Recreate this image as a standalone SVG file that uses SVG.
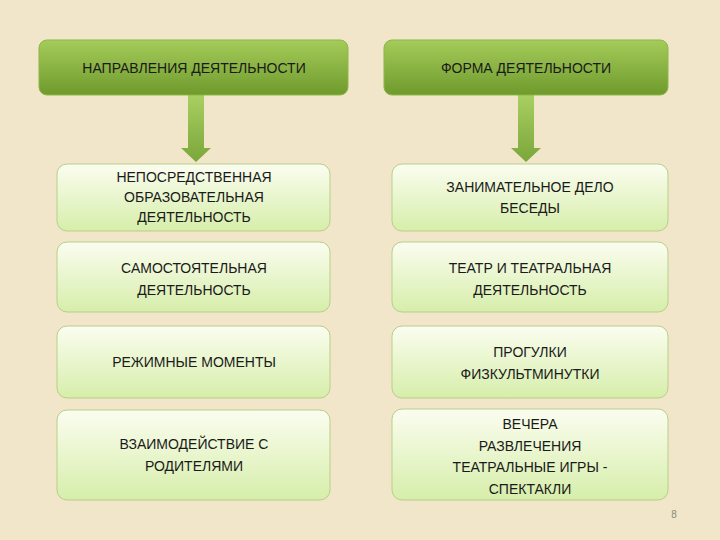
<svg xmlns="http://www.w3.org/2000/svg" width="720" height="540" viewBox="0 0 720 540">
<defs>
<linearGradient id="hg" x1="0" y1="0" x2="0" y2="1"><stop offset="0" stop-color="#a4cc5a"/><stop offset="1" stop-color="#6f9a2c"/></linearGradient>
<linearGradient id="bg" x1="0" y1="0" x2="0" y2="1"><stop offset="0" stop-color="#fbfdf0"/><stop offset="1" stop-color="#d6eeaa"/></linearGradient>
<linearGradient id="ag" x1="0" y1="0" x2="0" y2="1"><stop offset="0" stop-color="#a9cf62"/><stop offset="1" stop-color="#7aa63a"/></linearGradient>
<style>
.h{fill:url(#hg);stroke:#8fb54a;stroke-width:1}
.b{fill:url(#bg);stroke:#b8cf88;stroke-width:1}
.a{fill:url(#ag)}
text{font-family:"Liberation Sans",Arial,sans-serif;font-size:14px;fill:#1a1a1a;text-anchor:middle}
</style>
</defs>
<rect width="720" height="540" fill="#f1e6c9"/>
<g id="connectors">
<path class="a" d="M188 95 H204 V148 H211 L196 162 L181 148 H188 Z"/>
<path class="a" d="M518 95 H534 V148 H541 L526 162 L511 148 H518 Z"/>
</g>
<g id="h1"><rect class="h" x="39" y="40" width="309" height="55" rx="8"/><text x="194" y="73">НАПРАВЛЕНИЯ ДЕЯТЕЛЬНОСТИ</text></g>
<g id="h2"><rect class="h" x="384" y="40" width="284" height="55" rx="8"/><text x="526" y="73">ФОРМА ДЕЯТЕЛЬНОСТИ</text></g>
<g id="l1"><rect class="b" x="57" y="164" width="273" height="67" rx="10"/><text x="194" y="182">НЕПОСРЕДСТВЕННАЯ</text><text x="194" y="202">ОБРАЗОВАТЕЛЬНАЯ</text><text x="194" y="222">ДЕЯТЕЛЬНОСТЬ</text></g>
<g id="l2"><rect class="b" x="57" y="242" width="273" height="70" rx="10"/><text x="194" y="273">САМОСТОЯТЕЛЬНАЯ</text><text x="194" y="295">ДЕЯТЕЛЬНОСТЬ</text></g>
<g id="l3"><rect class="b" x="57" y="326" width="273" height="72" rx="10"/><text x="194" y="367">РЕЖИМНЫЕ МОМЕНТЫ</text></g>
<g id="l4"><rect class="b" x="57" y="410" width="273" height="90" rx="10"/><text x="194" y="449">ВЗАИМОДЕЙСТВИЕ С</text><text x="194" y="471">РОДИТЕЛЯМИ</text></g>
<g id="r1"><rect class="b" x="392" y="164" width="276" height="67" rx="10"/><text x="530" y="192">ЗАНИМАТЕЛЬНОЕ ДЕЛО</text><text x="530" y="213">БЕСЕДЫ</text></g>
<g id="r2"><rect class="b" x="392" y="242" width="276" height="70" rx="10"/><text x="530" y="273">ТЕАТР И ТЕАТРАЛЬНАЯ</text><text x="530" y="295">ДЕЯТЕЛЬНОСТЬ</text></g>
<g id="r3"><rect class="b" x="392" y="326" width="276" height="72" rx="10"/><text x="530" y="357">ПРОГУЛКИ</text><text x="530" y="379">ФИЗКУЛЬТМИНУТКИ</text></g>
<g id="r4"><rect class="b" x="392" y="409" width="276" height="91" rx="10"/><text x="530" y="429">ВЕЧЕРА</text><text x="530" y="451">РАЗВЛЕЧЕНИЯ</text><text x="530" y="472">ТЕАТРАЛЬНЫЕ ИГРЫ -</text><text x="530" y="494">СПЕКТАКЛИ</text></g>
<text x="674" y="518" style="font-size:10px;fill:#8a8a7a">8</text>
</svg>
